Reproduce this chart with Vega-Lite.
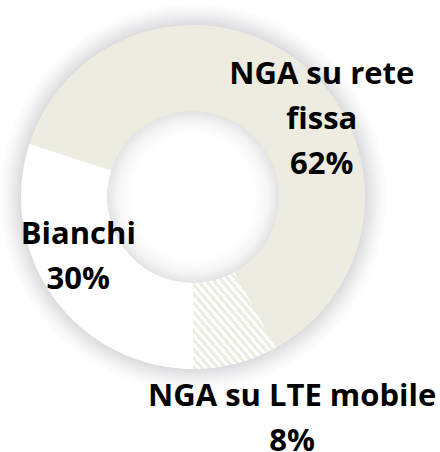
{
  "$schema": "https://vega.github.io/schema/vega-lite/v6.json",
  "width": 386,
  "height": 394,
  "autosize": {"type": "none"},
  "padding": {"left": 0, "top": 0, "right": 54, "bottom": 58},
  "background": "#ffffff",
  "config": {"view": {"stroke": null}},
  "data": {
    "values": [
      {"categoria": "NGA su rete fissa", "quota": 62, "etichetta": "NGA su rete\nfissa\n62%"},
      {"categoria": "NGA su LTE mobile", "quota": 8, "etichetta": "NGA su LTE mobile\n8%"},
      {"categoria": "Bianchi", "quota": 30, "etichetta": "Bianchi\n30%"}
    ]
  },
  "encoding": {
    "theta": {"field": "quota", "type": "quantitative", "stack": true, "scale": {"range": [-1.256637, 5.026548]}},
    "order": {"field": "categoria", "sort": "descending"}
  },
  "layer": [
    {
      "transform": [{"aggregate": [{"op": "sum", "field": "quota", "as": "quota"}]}],
      "mark": {
        "type": "arc",
        "outerRadius": 194,
        "innerRadius": 0,
        "stroke": null,
        "fill": {
          "gradient": "radial",
          "x1": 0.5, "y1": 0.5, "r1": 0,
          "x2": 0.5, "y2": 0.5, "r2": 0.5,
          "stops": [
            {"offset": 0, "color": "#ffffff"},
            {"offset": 0.32, "color": "#ffffff"},
            {"offset": 0.39, "color": "#f5f5f6"},
            {"offset": 0.443, "color": "#e3e3e5"},
            {"offset": 0.887, "color": "#dcdcdf"},
            {"offset": 0.92, "color": "#e9e9eb"},
            {"offset": 0.96, "color": "#f6f6f7"},
            {"offset": 1, "color": "#ffffff"}
          ]
        }
      }
    },
    {
      "mark": {"type": "arc", "outerRadius": 172, "innerRadius": 86, "stroke": null},
      "encoding": {
        "fill": {
          "condition": [
            {
              "test": "datum.categoria === 'NGA su LTE mobile'",
              "value": {
                "gradient": "linear",
                "x1": 0, "y1": 1, "x2": 1, "y2": 0,
                "stops": [
                  {"offset": 0, "color": "#eeece1"}, {"offset": 0.024, "color": "#eeece1"}, {"offset": 0.024, "color": "#ffffff"}, {"offset": 0.048, "color": "#ffffff"},
                  {"offset": 0.048, "color": "#eeece1"}, {"offset": 0.071, "color": "#eeece1"}, {"offset": 0.071, "color": "#ffffff"}, {"offset": 0.095, "color": "#ffffff"},
                  {"offset": 0.095, "color": "#eeece1"}, {"offset": 0.119, "color": "#eeece1"}, {"offset": 0.119, "color": "#ffffff"}, {"offset": 0.143, "color": "#ffffff"},
                  {"offset": 0.143, "color": "#eeece1"}, {"offset": 0.167, "color": "#eeece1"}, {"offset": 0.167, "color": "#ffffff"}, {"offset": 0.190, "color": "#ffffff"},
                  {"offset": 0.190, "color": "#eeece1"}, {"offset": 0.214, "color": "#eeece1"}, {"offset": 0.214, "color": "#ffffff"}, {"offset": 0.238, "color": "#ffffff"},
                  {"offset": 0.238, "color": "#eeece1"}, {"offset": 0.262, "color": "#eeece1"}, {"offset": 0.262, "color": "#ffffff"}, {"offset": 0.286, "color": "#ffffff"},
                  {"offset": 0.286, "color": "#eeece1"}, {"offset": 0.310, "color": "#eeece1"}, {"offset": 0.310, "color": "#ffffff"}, {"offset": 0.333, "color": "#ffffff"},
                  {"offset": 0.333, "color": "#eeece1"}, {"offset": 0.357, "color": "#eeece1"}, {"offset": 0.357, "color": "#ffffff"}, {"offset": 0.381, "color": "#ffffff"},
                  {"offset": 0.381, "color": "#eeece1"}, {"offset": 0.405, "color": "#eeece1"}, {"offset": 0.405, "color": "#ffffff"}, {"offset": 0.429, "color": "#ffffff"},
                  {"offset": 0.429, "color": "#eeece1"}, {"offset": 0.452, "color": "#eeece1"}, {"offset": 0.452, "color": "#ffffff"}, {"offset": 0.476, "color": "#ffffff"},
                  {"offset": 0.476, "color": "#eeece1"}, {"offset": 0.500, "color": "#eeece1"}, {"offset": 0.500, "color": "#ffffff"}, {"offset": 0.524, "color": "#ffffff"},
                  {"offset": 0.524, "color": "#eeece1"}, {"offset": 0.548, "color": "#eeece1"}, {"offset": 0.548, "color": "#ffffff"}, {"offset": 0.571, "color": "#ffffff"},
                  {"offset": 0.571, "color": "#eeece1"}, {"offset": 0.595, "color": "#eeece1"}, {"offset": 0.595, "color": "#ffffff"}, {"offset": 0.619, "color": "#ffffff"},
                  {"offset": 0.619, "color": "#eeece1"}, {"offset": 0.643, "color": "#eeece1"}, {"offset": 0.643, "color": "#ffffff"}, {"offset": 0.667, "color": "#ffffff"},
                  {"offset": 0.667, "color": "#eeece1"}, {"offset": 0.690, "color": "#eeece1"}, {"offset": 0.690, "color": "#ffffff"}, {"offset": 0.714, "color": "#ffffff"},
                  {"offset": 0.714, "color": "#eeece1"}, {"offset": 0.738, "color": "#eeece1"}, {"offset": 0.738, "color": "#ffffff"}, {"offset": 0.762, "color": "#ffffff"},
                  {"offset": 0.762, "color": "#eeece1"}, {"offset": 0.786, "color": "#eeece1"}, {"offset": 0.786, "color": "#ffffff"}, {"offset": 0.810, "color": "#ffffff"},
                  {"offset": 0.810, "color": "#eeece1"}, {"offset": 0.833, "color": "#eeece1"}, {"offset": 0.833, "color": "#ffffff"}, {"offset": 0.857, "color": "#ffffff"},
                  {"offset": 0.857, "color": "#eeece1"}, {"offset": 0.881, "color": "#eeece1"}, {"offset": 0.881, "color": "#ffffff"}, {"offset": 0.905, "color": "#ffffff"},
                  {"offset": 0.905, "color": "#eeece1"}, {"offset": 0.929, "color": "#eeece1"}, {"offset": 0.929, "color": "#ffffff"}, {"offset": 0.952, "color": "#ffffff"},
                  {"offset": 0.952, "color": "#eeece1"}, {"offset": 0.976, "color": "#eeece1"}, {"offset": 0.976, "color": "#ffffff"}, {"offset": 1, "color": "#ffffff"}
                ]
              }
            },
            {"test": "datum.categoria === 'Bianchi'", "value": "#ffffff"}
          ],
          "value": "#eeece1"
        }
      }
    },
    {
      "mark": {"type": "text", "radius": 144, "dx": 37, "dy": -11, "font": "Open Sans", "fontWeight": "bold", "fontSize": 31, "lineHeight": 45, "lineBreak": "\n", "align": "center", "baseline": "middle", "color": "#000000"},
      "encoding": {
        "text": {"condition": {"test": "datum.categoria === 'NGA su rete fissa'", "field": "etichetta", "type": "nominal"}, "value": ""}
      }
    },
    {
      "mark": {"type": "text", "radius": 127, "dx": -12, "dy": -37, "font": "Open Sans", "fontWeight": "bold", "fontSize": 31, "lineHeight": 45, "lineBreak": "\n", "align": "center", "baseline": "middle", "color": "#000000"},
      "encoding": {
        "text": {"condition": {"test": "datum.categoria === 'Bianchi'", "field": "etichetta", "type": "nominal"}, "value": ""}
      }
    },
    {
      "mark": {"type": "text", "radius": 238, "dx": 40, "dy": -31, "font": "Open Sans", "fontWeight": "bold", "fontSize": 31, "lineHeight": 45, "lineBreak": "\n", "align": "center", "baseline": "middle", "color": "#000000"},
      "encoding": {
        "text": {"condition": {"test": "datum.categoria === 'NGA su LTE mobile'", "field": "etichetta", "type": "nominal"}, "value": ""}
      }
    }
  ]
}
